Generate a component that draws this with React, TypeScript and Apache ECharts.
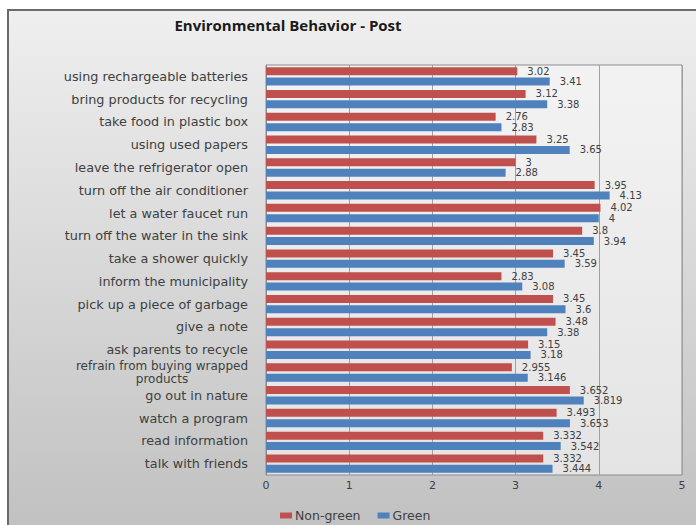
import React, { useEffect, useRef } from "react";
import * as echarts from "echarts";

const categories = [
  "using rechargeable batteries",
  "bring products for recycling",
  "take food in plastic box",
  "using used papers",
  "leave the refrigerator open",
  "turn off the air conditioner",
  "let a water faucet run",
  "turn off the water in the sink",
  "take a shower quickly",
  "inform the municipality",
  "pick up a piece of garbage",
  "give a note",
  "ask parents to recycle",
  "refrain from buying wrapped\nproducts",
  "go out in nature",
  "watch a program",
  "read information",
  "talk with friends",
];

const nonGreen = [3.02, 3.12, 2.76, 3.25, 3, 3.95, 4.02, 3.8, 3.45, 2.83, 3.45, 3.48, 3.15, 2.955, 3.652, 3.493, 3.332, 3.332];
const green = [3.41, 3.38, 2.83, 3.65, 2.88, 4.13, 4, 3.94, 3.59, 3.08, 3.6, 3.38, 3.18, 3.146, 3.819, 3.653, 3.542, 3.444];

const xTicks = [0, 1, 2, 3, 4, 5];
const seriesNames = ["Non-green", "Green"];

const FONT = "DejaVu Sans";
const TEXT = "#404040";

export default function App() {
  const ref = useRef<HTMLDivElement>(null);
  useEffect(() => {
    if (!ref.current) return;
    const chart = echarts.init(ref.current, null, { renderer: "svg" });
    const labelStyle = {
      show: true,
      position: "right",
      distance: 10,
      fontSize: 10,
      lineHeight: 9,
      fontFamily: FONT,
      color: TEXT,
    };
    chart.setOption({
      animation: false,
      textStyle: { fontFamily: FONT },
      graphic: [
        {
          type: "rect",
          z: -10,
          silent: true,
          shape: { x: 8, y: 10, width: 720, height: 540 },
          style: {
            fill: new echarts.graphic.LinearGradient(0, 0, 0, 1, [
              { offset: 0, color: "#efefef" },
              { offset: 1, color: "#bfbfbf" },
            ]),
            stroke: "#6a6a6a",
            lineWidth: 2,
          },
        },
        {
          type: "text",
          x: 288,
          y: 25,
          style: {
            text: "Environmental Behavior - Post",
            fontFamily: "Open Sans",
            fontWeight: "bold",
            fontSize: 15,
            fill: "#1a1a1a",
            textAlign: "center",
            textVerticalAlign: "middle",
          },
        },
      ],
      legend: {
        left: 280,
        top: 509,
        padding: 0,
        itemWidth: 12,
        itemHeight: 6,
        itemGap: 17,
        icon: "rect",
        textStyle: { fontSize: 12.5, lineHeight: 13, fontFamily: FONT, color: TEXT, padding: [0, 0, 0, -2] },
        data: seriesNames,
      },
      grid: {
        left: 266,
        right: 14,
        top: 65,
        bottom: 50,
        show: true,
        backgroundColor: new echarts.graphic.LinearGradient(0, 0, 0, 1, [
          { offset: 0, color: "#f3f3f3" },
          { offset: 1, color: "#e4e4e4" },
        ]),
        borderColor: "#8c8c8c",
        borderWidth: 1,
      },
      xAxis: {
        type: "value",
        min: xTicks[0],
        max: xTicks[xTicks.length - 1],
        interval: 1,
        axisLine: { show: false },
        axisTick: { show: false },
        axisLabel: { fontSize: 11, fontFamily: FONT, color: TEXT, margin: 5 },
        splitLine: { show: true, lineStyle: { color: "#a0a0a0", width: 1 } },
      },
      yAxis: {
        type: "category",
        inverse: true,
        data: categories,
        axisLine: { show: true, lineStyle: { color: "#8c8c8c" } },
        axisTick: { show: false },
        axisLabel: {
          fontSize: 12.8,
          fontFamily: FONT,
          color: TEXT,
          margin: 18,
          lineHeight: 13,
          formatter: (v: string) =>
            v.indexOf("\n") >= 0
              ? v
                  .split("\n")
                  .map((s) => "{c|" + s + "}")
                  .join("\n")
              : v,
          rich: {
            c: { align: "center", fontSize: 12, fontFamily: FONT, color: TEXT, lineHeight: 13.5 },
          },
        },
      },
      series: [
        {
          name: seriesNames[0],
          type: "bar",
          data: nonGreen,
          barWidth: 8,
          barGap: "30%",
          itemStyle: { color: "#C0504D" },
          label: labelStyle,
        },
        {
          name: seriesNames[1],
          type: "bar",
          data: green,
          barWidth: 8,
          barGap: "30%",
          itemStyle: { color: "#4F81BD" },
          label: labelStyle,
        },
      ],
    });
    return () => chart.dispose();
  }, []);
  return (
    <div
      ref={ref}
      style={{ position: "fixed", left: 0, top: 0, width: 696, height: 525, background: "#fff" }}
    />
  );
}
